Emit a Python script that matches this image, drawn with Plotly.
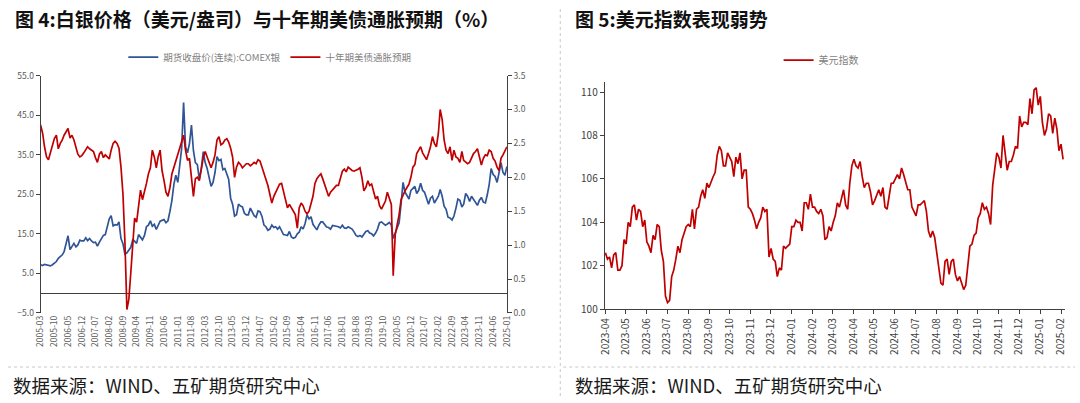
import pandas as pd
import plotly.graph_objs as go

# 图4：COMEX白银期货收盘价（美元/盎司），月度，2005-03 至 2025-01
silver_price = [
    7.2, 7.0, 7.3, 7.1, 7.0, 6.9, 7.2, 7.6, 8.0, 8.8,                      # 2005
    9.3, 9.7, 10.5, 12.8, 14.5, 11.0, 11.8, 12.6, 11.7, 12.2, 13.4, 13.2,  # 2006
    13.2, 14.0, 13.3, 13.8, 13.2, 12.8, 12.9, 11.9, 12.9, 13.9, 14.6, 14.8,  # 2007
    16.5, 18.8, 19.6, 17.0, 17.3, 17.2, 18.0, 13.8, 12.5, 9.9, 10.2, 11.0,  # 2008
    11.6, 13.6, 13.0, 12.6, 14.8, 14.0, 13.5, 14.6, 16.8, 17.2, 18.3, 16.9,  # 2009
    17.4, 16.1, 17.2, 18.2, 18.4, 18.6, 17.8, 18.3, 20.7, 23.4, 27.5, 29.8,  # 2010
    28.0, 32.5, 36.5, 48.2, 37.0, 35.5, 37.8, 42.5, 36.0, 33.0, 32.5, 28.8,  # 2011
    31.5, 35.8, 33.0, 31.5, 29.0, 27.0, 28.0, 30.5, 34.5, 33.5, 33.8, 31.2,  # 2012
    31.5, 30.0, 28.8, 24.0, 22.5, 19.5, 19.8, 22.5, 22.0, 21.8, 20.2, 19.8,  # 2013
    19.8, 21.5, 20.5, 19.6, 19.2, 20.8, 20.6, 19.4, 17.2, 16.8, 15.9, 16.2,  # 2014
    17.2, 16.6, 16.8, 16.2, 16.8, 15.7, 14.8, 14.7, 14.6, 15.6, 14.2, 13.9,  # 2015
    14.1, 15.0, 15.4, 16.8, 16.2, 17.6, 19.8, 18.8, 19.3, 17.4, 16.8, 16.0,  # 2016
    17.2, 18.0, 18.0, 17.3, 16.7, 16.6, 16.2, 17.1, 17.0, 17.0, 16.8, 16.5,  # 2017
    17.2, 16.5, 16.4, 16.8, 16.4, 16.2, 15.5, 14.6, 14.3, 14.6, 14.2, 14.8,  # 2018
    15.6, 15.8, 15.2, 15.0, 14.5, 15.2, 16.2, 17.8, 18.0, 17.6, 17.2, 17.5,  # 2019
    17.9, 17.2, 13.8, 15.2, 16.5, 17.8, 22.5, 28.0, 25.5, 24.8, 23.8, 26.0,  # 2020
    26.5, 27.0, 25.2, 26.0, 27.8, 26.0, 25.5, 23.8, 22.5, 24.0, 24.5, 22.8,  # 2021
    23.5, 24.5, 26.2, 24.5, 22.0, 21.2, 19.2, 19.0, 18.5, 19.5, 21.5, 23.8,  # 2022
    23.5, 21.8, 22.5, 25.2, 24.5, 23.2, 24.5, 23.8, 23.0, 22.2, 23.5, 24.2,  # 2023
    23.0, 22.8, 24.8, 27.5, 31.5, 30.0, 29.5, 28.0, 30.5, 33.0, 30.5, 29.8,  # 2024
    32.0,                                                                  # 2025
]

# 十年期美债通胀预期（%），月度
breakeven_10y = [
    2.77, 2.65, 2.45, 2.30, 2.26, 2.38, 2.50, 2.57, 2.62, 2.42,
    2.50, 2.55, 2.62, 2.68, 2.72, 2.58, 2.62, 2.55, 2.45, 2.34, 2.30, 2.32,
    2.36, 2.40, 2.45, 2.42, 2.40, 2.38, 2.29, 2.22, 2.34, 2.38, 2.29, 2.33,
    2.30, 2.27, 2.40, 2.50, 2.53, 2.50, 2.43, 2.15, 1.75, 1.05, 0.05, 0.20,
    0.60, 1.05, 1.40, 1.34, 1.60, 1.81, 1.67, 1.78, 1.91, 2.05, 2.14, 2.40,
    2.30, 2.14, 2.30, 2.40, 2.10, 1.95, 1.78, 1.72, 1.85, 2.05, 2.15, 2.24,
    2.35, 2.45, 2.55, 2.62, 2.40, 2.25, 2.28, 1.95, 1.72, 1.98, 2.00, 1.95,
    2.15, 2.29, 2.38, 2.30, 2.20, 2.14, 2.22, 2.33, 2.55, 2.60, 2.48, 2.50,
    2.55, 2.57, 2.52, 2.43, 2.30, 2.00, 2.15, 2.22, 2.19, 2.14, 2.17, 2.20,
    2.20, 2.17, 2.19, 2.22, 2.20, 2.26, 2.24, 2.15, 2.05, 1.95, 1.88, 1.75,
    1.62, 1.72, 1.78, 1.82, 1.90, 1.91, 1.80, 1.70, 1.55, 1.60, 1.55, 1.50,
    1.45, 1.25, 1.55, 1.62, 1.58, 1.50, 1.46, 1.50, 1.60, 1.72, 1.91, 1.98,
    2.02, 2.05, 1.98, 1.90, 1.82, 1.72, 1.78, 1.81, 1.84, 1.88, 1.88, 1.98,
    2.09, 2.12, 2.08, 2.15, 2.12, 2.10, 2.09, 2.10, 2.12, 2.14, 2.00, 1.80,
    1.85, 1.95, 1.88, 1.90, 1.81, 1.68, 1.72, 1.58, 1.53, 1.58, 1.65, 1.78,
    1.70, 1.60, 0.55, 1.15, 1.30, 1.45, 1.67, 1.75, 1.80, 1.85, 1.90, 2.00,
    2.15, 2.19, 2.35, 2.40, 2.45, 2.36, 2.30, 2.26, 2.35, 2.45, 2.60, 2.50,
    2.45, 2.65, 3.00, 2.85, 2.55, 2.40, 2.35, 2.45, 2.25, 2.40, 2.30, 2.28,
    2.22, 2.38, 2.25, 2.22, 2.20, 2.22, 2.30, 2.35, 2.38, 2.42, 2.30, 2.18,
    2.28, 2.33, 2.32, 2.40, 2.38, 2.28, 2.24, 2.15, 2.10, 2.28, 2.33, 2.40,
    2.45,
]

# 图5：美元指数，2023-04 至 2025-02 初，大约每3天一个点
dxy_index = [
    102.6, 102.3, 102.4, 101.9, 102.5, 102.6, 101.8, 101.8, 102.0, 103.2,
    103.0, 104.0, 103.8, 104.7, 104.8, 104.1, 104.6, 104.5, 103.8, 104.1,
    103.1, 102.9, 102.6, 103.4, 103.2, 103.9, 103.8, 102.7, 102.2, 100.6,
    100.3, 100.4, 101.5, 101.8, 102.3, 102.9, 102.6, 103.2, 103.5, 103.8,
    103.9, 103.8, 104.6, 103.7, 104.6, 104.7, 105.2, 105.5, 105.1, 105.8,
    105.6, 105.9, 106.1, 106.3, 107.1, 107.5, 107.3, 106.6, 106.6, 107.2,
    107.0, 106.8, 106.1, 107.0, 106.7, 107.2, 106.0, 106.4, 106.4, 104.7,
    104.6, 104.4, 104.1, 103.7, 104.0, 104.2, 104.7, 104.5, 104.6, 102.4,
    102.8, 102.3, 102.2, 101.5, 101.9, 101.8, 102.9, 102.8, 102.9, 103.0,
    103.8, 103.8, 104.1, 104.0, 104.0, 103.6, 104.9, 104.9, 104.6, 105.3,
    104.7, 104.7, 104.5, 104.4, 104.6, 104.3, 103.2, 103.3, 103.8, 103.6,
    104.0, 104.3, 104.9, 104.7, 105.1, 105.5, 104.8, 104.6, 105.8, 106.6,
    106.9, 106.6, 106.5, 106.8, 106.1, 105.6, 105.8, 105.8, 105.4, 104.8,
    105.0, 105.3, 105.5, 105.2, 105.6, 104.7, 104.6, 105.2, 105.8, 105.8,
    106.0, 106.2, 106.0, 106.5, 106.2, 105.9, 105.5, 105.5, 104.7, 104.5,
    104.3, 104.8, 104.8, 104.9, 105.0, 104.5, 103.6, 103.3, 103.6, 103.3,
    102.6, 101.9, 101.2, 101.1, 102.2, 102.3, 101.6, 102.2, 102.3, 101.6,
    101.3, 101.5, 101.2, 100.9, 101.1, 102.0, 102.9, 103.0, 103.4, 103.5,
    104.2, 104.4, 104.9, 104.6, 104.7, 104.4, 103.9, 105.7, 106.5, 107.2,
    107.0, 106.5, 108.0, 107.1, 106.4, 106.8, 106.8, 107.1, 107.5, 107.4,
    108.9, 108.4, 108.6, 108.6, 108.5, 109.7, 109.0, 110.1, 110.2, 109.4,
    109.8, 108.6, 108.0, 108.3, 109.0, 108.9, 108.1, 108.8, 108.3, 107.3,
    107.6, 106.9,
]

month_dates = pd.date_range("2005-03-01", periods=len(silver_price), freq="MS")
dxy_dates = pd.date_range("2023-04-01", "2025-02-04", periods=len(dxy_index))

W, H = 1080, 403
font_cn = "Noto Sans CJK SC"
axis_color = "#404040"

fig = go.Figure()

fig.add_trace(go.Scatter(x=month_dates, y=silver_price, mode="lines",
                         name="期货收盘价(连续):COMEX银",
                         line=dict(color="#2F5597", width=1.7),
                         xaxis="x", yaxis="y", legend="legend"))
fig.add_trace(go.Scatter(x=month_dates, y=breakeven_10y, mode="lines",
                         name="十年期美债通胀预期",
                         line=dict(color="#C00000", width=1.7),
                         xaxis="x", yaxis="y2", legend="legend"))
fig.add_trace(go.Scatter(x=dxy_dates, y=dxy_index, mode="lines",
                         name="美元指数",
                         line=dict(color="#C00000", width=1.7),
                         xaxis="x2", yaxis="y3", legend="legend2"))

# 左图区域（像素换算成 paper 坐标）
lx0, lx1 = 33 / W, 505 / W
ly0, ly1 = 1 - 317 / H, 1 - 71 / H
zero_pos = ly0 + (0 - (-5)) / 60 * (ly1 - ly0)
# 右图区域
rx0, rx1 = 604 / W, 1070 / W
ry0, ry1 = 1 - 313 / H, 1 - 78 / H

left_range = ["2005-03-01", "2025-01-01"]
tick_small = dict(family=font_cn, size=8.5, color="#595959")
tick_right = dict(family=font_cn, size=10, color="#404040")

fig.update_layout(
    width=W, height=H,
    margin=dict(l=0, r=0, t=0, b=0),
    paper_bgcolor="white", plot_bgcolor="white",
    font=dict(family=font_cn),
    xaxis=dict(domain=[lx0, lx1], anchor="y", type="date", range=left_range,
               tick0="2005-03-01", dtick="M7", tickformat="%Y-%m", tickangle=-90,
               showline=False, ticks="", showgrid=False, zeroline=False,
               tickfont=tick_small),
    # 零线位置的辅助x轴，只画轴线和刻度
    xaxis3=dict(overlaying="x", anchor="free", position=zero_pos, type="date",
                range=left_range, tick0="2005-03-01", dtick="M7",
                showline=True, linecolor=axis_color, linewidth=1,
                ticks="outside", ticklen=4, tickcolor=axis_color,
                showticklabels=False, showgrid=False, zeroline=False),
    yaxis=dict(domain=[ly0, ly1], anchor="x", range=[-5, 55], tick0=-5, dtick=10,
               tickformat=".1f", showline=True, linecolor=axis_color,
               ticks="outside", ticklen=4, tickcolor=axis_color,
               showgrid=False, zeroline=True, zerolinecolor=axis_color,
               zerolinewidth=1, tickfont=tick_small),
    yaxis2=dict(overlaying="y", side="right", anchor="x", range=[0, 3.5], dtick=0.5,
                tickformat=".1f", showline=True, linecolor=axis_color,
                ticks="outside", ticklen=4, tickcolor=axis_color,
                showgrid=False, zeroline=False, tickfont=tick_small),
    xaxis2=dict(domain=[rx0, rx1], anchor="y3", type="date",
                range=["2023-03-31", "2025-02-07"],
                tick0="2023-04-01", dtick="M1", tickformat="%Y-%m", tickangle=-90,
                showline=True, linecolor=axis_color, ticks="outside", ticklen=4,
                tickcolor=axis_color, showgrid=False, zeroline=False,
                tickfont=tick_right),
    yaxis3=dict(domain=[ry0, ry1], anchor="x2", range=[100, 110.45], tick0=100, dtick=2,
                showline=True, linecolor=axis_color, ticks="outside", ticklen=4,
                tickcolor=axis_color, showgrid=False, zeroline=False,
                tickfont=tick_right),
    legend=dict(orientation="h", x=265 / W, xanchor="center", y=1 - 52 / H,
                yanchor="middle", bgcolor="rgba(0,0,0,0)",
                font=dict(family=font_cn, size=9.5, color="#7F7F7F")),
    legend2=dict(orientation="h", x=823 / W, xanchor="center", y=1 - 55 / H,
                 yanchor="middle", bgcolor="rgba(0,0,0,0)",
                 font=dict(family=font_cn, size=10, color="#7F7F7F")),
)

# 标题和数据来源
titles = [
    (5, 12, "<b>图 4:白银价格（美元/盎司）与十年期美债通胀预期（%）</b>"),
    (572, 12, "<b>图 5:美元指数表现弱势</b>"),
]
for px_x, px_y, text in titles:
    fig.add_annotation(x=px_x / W, y=1 - px_y / H, xref="paper", yref="paper",
                       xanchor="left", yanchor="middle", showarrow=False, text=text,
                       font=dict(family=font_cn, size=19, color="#111111"))

for px_x in [3, 572]:
    fig.add_annotation(x=px_x / W, y=1 - 392 / H, xref="paper", yref="paper",
                       xanchor="left", yanchor="middle", showarrow=False,
                       text="数据来源：WIND、五矿期货研究中心",
                       font=dict(family=font_cn, size=18.5, color="#1a1a1a"))

# 分隔虚线
dot = dict(color="#C8C8C8", width=1, dash="dot")
fig.add_shape(type="line", xref="paper", yref="paper", x0=559 / W, x1=559 / W,
              y0=0, y1=1, line=dot)
fig.add_shape(type="line", xref="paper", yref="paper", x0=0, x1=554 / W,
              y0=1 - 373 / H, y1=1 - 373 / H, line=dot)
fig.add_shape(type="line", xref="paper", yref="paper", x0=562 / W, x1=1,
              y0=1 - 373 / H, y1=1 - 373 / H, line=dot)

fig.write_html("out.html", config={"displayModeBar": False},
               post_script="document.body.style.margin='0';")
